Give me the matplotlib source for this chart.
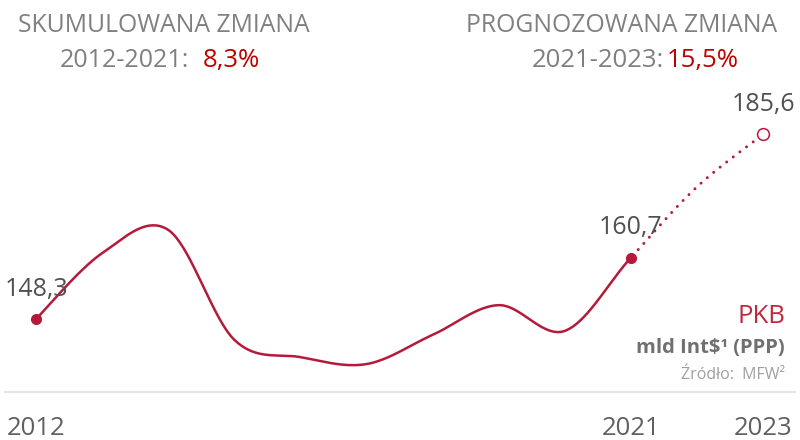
import numpy as np
import matplotlib.pyplot as plt
from matplotlib.lines import Line2D

plt.rcParams['font.family'] = ['Open Sans', 'DejaVu Sans']

# data
years = [2012, 2013, 2014, 2015, 2016, 2017, 2018, 2019, 2020, 2021, 2022, 2023]
pkb = [148.3, 161.6, 166.3, 144.1, 140.6, 139.2, 145.1, 151.1, 145.9, 160.7, 175.0, 185.6]
last_actual = 2021
labelled = {2012: '148,3', 2021: '160,7', 2023: '185,6'}
year_ticks = ['2012', '2021', '2023']

LINE = '#B51A3B'
RED = '#C00000'
GRAY = '#808080'


def smooth(xs, ys, n=40):
    # Excel-like smoothed line (Catmull-Rom through the points as Bezier)
    p = np.column_stack([xs, ys]).astype(float)
    ext = np.vstack([p[0], p, p[-1]])
    out = []
    t = np.linspace(0, 1, n)[:, None]
    for i in range(len(p) - 1):
        p0, p1, p2, p3 = ext[i], ext[i + 1], ext[i + 2], ext[i + 3]
        c1 = p1 + (p2 - p0) / 6
        c2 = p2 - (p3 - p1) / 6
        seg = ((1 - t) ** 3) * p1 + 3 * ((1 - t) ** 2) * t * c1 + 3 * (1 - t) * t ** 2 * c2 + t ** 3 * p2
        out.append(seg if i == 0 else seg[1:])
    return np.vstack(out)


fig = plt.figure(figsize=(8, 4.4), dpi=100)
ax = fig.add_axes([0, 0, 1, 1])
ax.axis('off')
ax.set_xlim(2011.455, 2023.558)
ax.set_ylim(123.86, 212.74)

curve = smooth(years, pkb)
split = curve[:, 0] <= last_actual + 1e-9
ax.plot(curve[split, 0], curve[split, 1], color=LINE, lw=1.8, solid_capstyle='round')
ax.plot(curve[~split, 0], curve[~split, 1], color=LINE, lw=2.1,
        linestyle=(0, (0.05, 2.8)), dash_capstyle='round')

i21 = years.index(last_actual)
ax.plot([years[0], years[i21]], [pkb[0], pkb[i21]], 'o', color=LINE, ms=7, zorder=3)
ax.plot([years[-1]], [pkb[-1]], 'o', mfc='white', mec=LINE, mew=1.1, ms=8.5, zorder=3)

for yr, txt in labelled.items():
    ax.annotate(txt, (yr, pkb[years.index(yr)]), xytext=(0, 21.5),
                textcoords='offset points', ha='center', va='center',
                fontsize=18, color='#505050')

# year labels under the baseline
for lab in year_ticks:
    ax.text(int(lab), 1 - 428 / 440, lab, transform=ax.get_xaxis_transform(),
            ha='center', va='center', fontsize=18.5, color='#606060')

fig.add_artist(Line2D([5 / 800, 795 / 800], [1 - 392 / 440] * 2,
                      color='#E3E3E3', lw=1.5, transform=fig.transFigure))


def px(x, y):
    return x / 800, 1 - y / 440


# headers
fig.text(*px(164, 32), 'SKUMULOWANA ZMIANA', ha='center', va='baseline',
         fontsize=17.8, color=GRAY)
fig.text(*px(189, 67), '2012-2021:', ha='right', va='baseline', fontsize=18, color=GRAY)
fig.text(*px(203, 67), '8,3%', ha='left', va='baseline', fontsize=18.5, color=RED)

fig.text(*px(622, 32), 'PROGNOZOWANA ZMIANA', ha='center', va='baseline',
         fontsize=17.8, color=GRAY)
fig.text(*px(664, 67), '2021-2023:', ha='right', va='baseline', fontsize=18.5, color=GRAY)
fig.text(*px(667, 67), '15,5%', ha='left', va='baseline', fontsize=18.5, color=RED)

# legend block
fig.text(*px(785, 323), 'PKB', ha='right', va='baseline', fontsize=18.5, color='#C0283F')
fig.text(*px(785, 353), r'mld Int\$¹ (PPP)', ha='right', va='baseline', fontsize=14.5,
         fontweight='bold', color='#707070')
fig.text(*px(785, 379), 'Źródło:  MFW²', ha='right', va='baseline', fontsize=11.5,
         color='#A0A0A0')

fig.savefig('out.png', dpi=100)
